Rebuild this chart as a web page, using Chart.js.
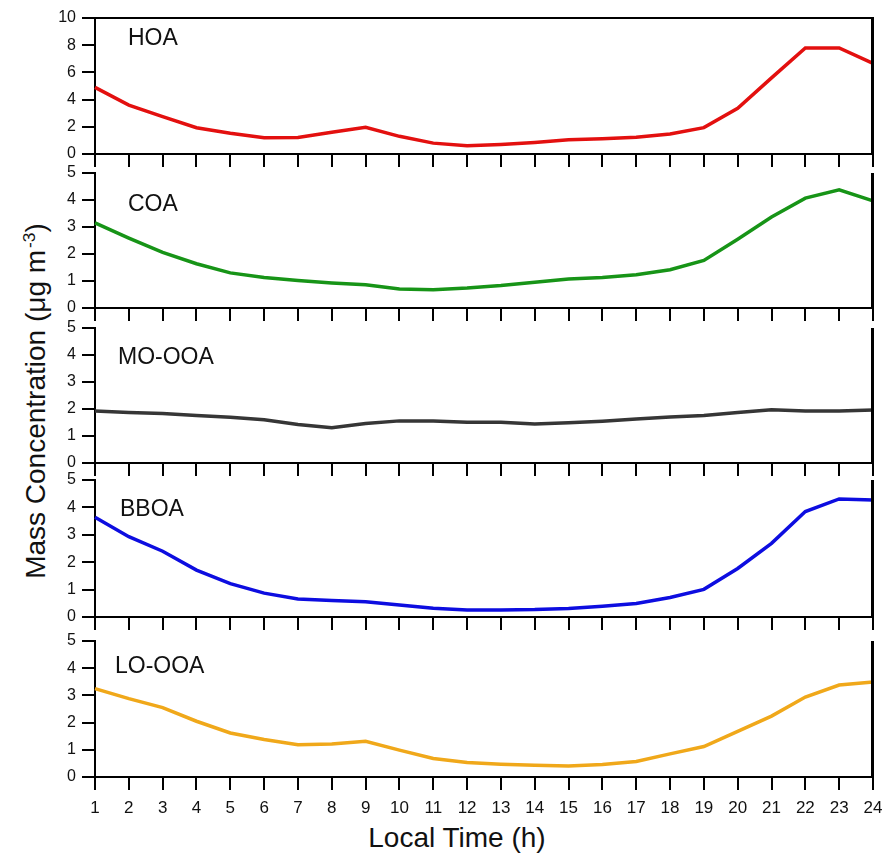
<!DOCTYPE html>
<html>
<head>
<meta charset="utf-8">
<script src="https://cdn.jsdelivr.net/npm/chart.js@4.4.1/dist/chart.umd.min.js"></script>
<style>
html,body{margin:0;padding:0;background:#fff;}
body{width:885px;height:855px;position:relative;overflow:hidden;font-family:"Liberation Sans",Arial,sans-serif;color:#111;}
.panel{position:absolute;left:0;width:885px;}
#ytitle{position:absolute;left:37px;top:401px;transform:translate(-50%,-50%) rotate(-90deg);white-space:nowrap;font-size:28px;line-height:28px;}
#ytitle .sup{position:relative;top:-0.6em;font-size:0.62em;margin-left:2px;}
#xtitle{position:absolute;left:457px;top:838px;transform:translate(-50%,-50%);white-space:nowrap;font-size:28px;line-height:28px;}
</style>
</head>
<body>
<div id="ytitle">Mass Concentration (μg m<span class="sup">-3</span>)</div>
<div id="xtitle">Local Time (h)</div>
<script>
// ---- data ----
const hours = [1,2,3,4,5,6,7,8,9,10,11,12,13,14,15,16,17,18,19,20,21,22,23,24];
const factorNames = ["HOA", "COA", "MO-OOA", "BBOA", "LO-OOA"];
const hoa   = [4.9, 3.6, 2.75, 1.93, 1.52, 1.2, 1.22, 1.6, 1.97, 1.3, 0.8, 0.6, 0.7, 0.85, 1.04, 1.12, 1.23, 1.47, 1.94, 3.36, 5.6, 7.8, 7.8, 6.67];
const coa   = [3.15, 2.59, 2.06, 1.64, 1.3, 1.13, 1.02, 0.93, 0.86, 0.7, 0.68, 0.74, 0.83, 0.95, 1.07, 1.13, 1.23, 1.42, 1.76, 2.55, 3.37, 4.07, 4.38, 3.97];
const moOoa = [1.93, 1.87, 1.83, 1.76, 1.69, 1.6, 1.43, 1.31, 1.46, 1.56, 1.56, 1.51, 1.51, 1.44, 1.49, 1.55, 1.63, 1.7, 1.76, 1.87, 1.97, 1.93, 1.93, 1.96];
const bboa  = [3.64, 2.93, 2.4, 1.71, 1.22, 0.87, 0.66, 0.6, 0.56, 0.44, 0.32, 0.26, 0.26, 0.27, 0.31, 0.39, 0.49, 0.71, 1.01, 1.77, 2.69, 3.85, 4.31, 4.27];
const loOoa = [3.25, 2.88, 2.55, 2.05, 1.62, 1.38, 1.19, 1.21, 1.31, 0.99, 0.68, 0.53, 0.47, 0.43, 0.4, 0.46, 0.57, 0.85, 1.12, 1.68, 2.24, 2.94, 3.38, 3.49];
const yMax  = [10, 5, 5, 5, 5];
const yStep = [2, 1, 1, 1, 1];

// ---- styling / layout ----
const seriesList = [hoa, coa, moOoa, bboa, loOoa];
const colors = ["#e3100f", "#179417", "#363636", "#0d0de0", "#f0a81a"];
const panelTop = [18, 173, 328, 480, 641];
const panelBottom = [154, 308, 463, 617, 777];
const labelOffset = [[33, 20.5], [33, 31.5], [23, 29.5], [25, 29.7], [20, 25.7]];
const TOP_PAD = 12;
const FAMILY = "'Liberation Sans', Arial, sans-serif";

function makePanelPlugin(idx) {
  return {
    id: 'panel' + idx,
    afterDatasetsDraw(chart) {
      const c = chart.ctx, a = chart.chartArea, off = labelOffset[idx];
      c.save();
      c.fillStyle = '#111';
      c.font = "23px " + FAMILY;
      c.textBaseline = 'middle';
      c.textAlign = 'left';
      c.fillText(factorNames[idx], a.left + off[0], a.top + off[1]);
      c.restore();
    },
    afterDraw(chart) {
      const c = chart.ctx, a = chart.chartArea;
      c.save();
      c.fillStyle = '#000';
      // right frame line of the panel
      c.fillRect(a.right - 2, a.top - (idx === 0 ? 1 : 0), 3, a.bottom - a.top + 1);
      if (idx === 0) c.fillRect(a.left, a.top - 1, a.right - a.left + 1, 2);
      c.restore();
    }
  };
}

function zeroPad(s) { s.paddingLeft = 0; s.paddingRight = 0; s.paddingTop = 0; s.paddingBottom = 0; }

factorNames.forEach((name, i) => {
  const last = i === factorNames.length - 1;
  const ph = panelBottom[i] - panelTop[i];
  const extra = last ? 50 : 15;
  const xH = last ? 44 : 13;
  const H = ph + TOP_PAD + extra;
  const div = document.createElement('div');
  div.className = 'panel';
  div.style.top = (panelTop[i] - TOP_PAD) + 'px';
  div.style.height = H + 'px';
  const cv = document.createElement('canvas');
  cv.width = 885; cv.height = H;
  div.appendChild(cv);
  document.body.appendChild(div);

  const blackBorder = {display: true, color: '#000', width: 2};
  new Chart(cv, {
    type: 'line',
    data: {
      labels: hours.map(String),
      datasets: [{
        label: name,
        data: seriesList[i],
        borderColor: colors[i],
        borderWidth: 3.5,
        pointRadius: 0,
        tension: 0,
        fill: false
      }]
    },
    options: {
      responsive: false,
      animation: false,
      devicePixelRatio: 1,
      layout: {padding: {top: TOP_PAD, left: 0, right: 12, bottom: extra - xH}},
      plugins: {legend: {display: false}, tooltip: {enabled: false}},
      scales: {
        x: {
          type: 'category',
          offset: false,
          grid: {
            offset: false, drawOnChartArea: true, drawTicks: true, tickLength: 13,
            lineWidth: 2, tickWidth: 2, tickColor: '#000',
            color: (ctx) => ctx.index === hours.length - 1 ? '#000' : 'rgba(0,0,0,0)'
          },
          border: blackBorder,
          ticks: {display: last, autoSkip: false, maxRotation: 0, padding: 8, color: '#111',
                  font: {family: FAMILY, size: 17}},
          afterFit(s) { s.height = xH; zeroPad(s); }
        },
        y: {
          min: 0, max: yMax[i],
          grid: {drawOnChartArea: false, drawTicks: true, tickLength: 13, color: '#000', lineWidth: 2},
          border: blackBorder,
          ticks: {stepSize: yStep[i], padding: 6, color: '#111', font: {family: FAMILY, size: 16}},
          afterFit(s) { s.width = 95; zeroPad(s); }
        }
      }
    },
    plugins: [makePanelPlugin(i)]
  });
});
</script>
</body>
</html>
